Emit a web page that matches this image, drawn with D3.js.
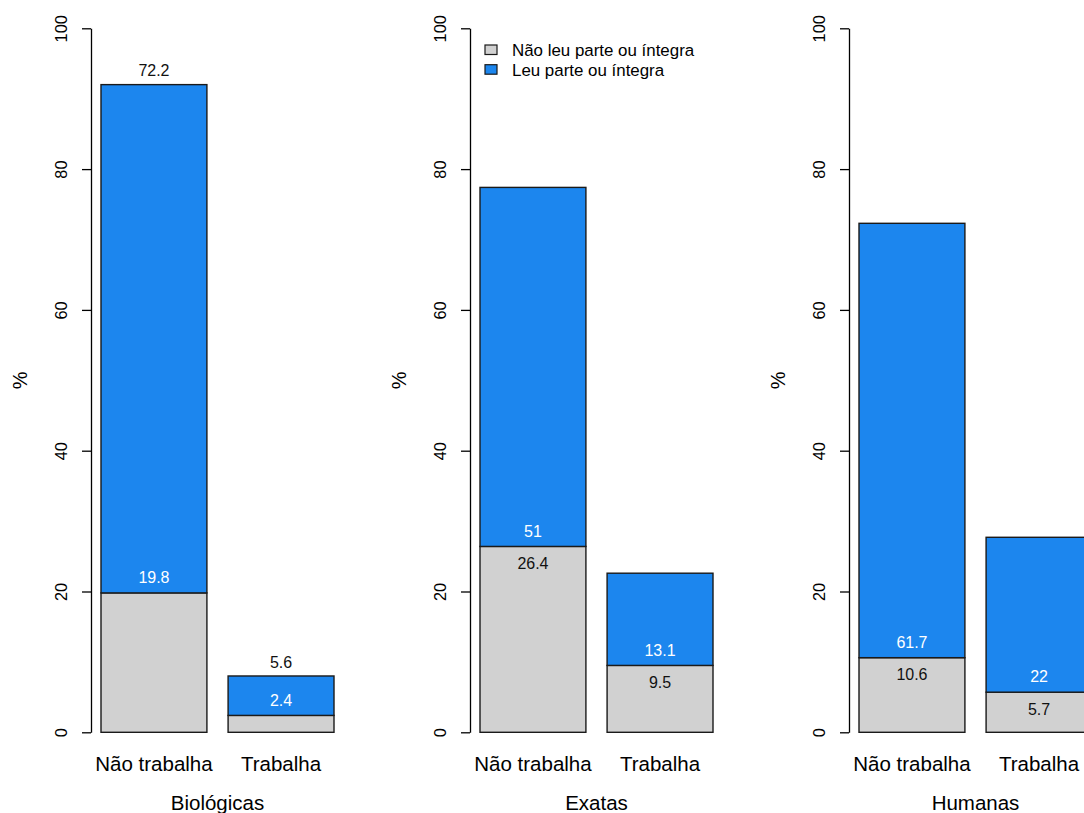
<!DOCTYPE html>
<html>
<head>
<meta charset="utf-8">
<script src="https://cdn.jsdelivr.net/npm/d3@7"></script>
<style>
  html, body { margin: 0; padding: 0; background: #fff; }
  svg { display: block; font-family: "Liberation Sans", Arial, sans-serif; }
</style>
</head>
<body>
<svg id="chart" width="1084" height="813"></svg>
<script>
// Leitura de obras por área e situação de trabalho (%)
const areas = ["Biológicas", "Exatas", "Humanas"];
const categorias = ["Não trabalha", "Trabalha"];
const naoLeu = [[19.8, 2.4], [26.4, 9.5], [10.6, 5.7]];   // Não leu parte ou íntegra
const leu = [[72.2, 5.6], [51, 13.1], [61.7, 22]];          // Leu parte ou íntegra
const ticksY = [0, 20, 40, 60, 80, 100];
const legenda = ["Não leu parte ou íntegra", "Leu parte ou íntegra"];
// Biológicas traz o valor de "leu" acima da barra; as demais trazem "não leu" dentro do segmento cinza
const rotuloNoTopo = [true, false, false];

const cores = ["#D1D1D1", "#1C86EE"];
const larguraPainel = 379;
const eixoX = 91;
const topo = 28.3, base = 732.3;

const svg = d3.select("#chart");
const y = d3.scaleLinear().domain([0, 100]).range([base, topo]);

areas.forEach((area, i) => {
  const g = svg.append("g").attr("transform", `translate(${i * larguraPainel},0)`);

  const x = d3.scaleBand()
    .domain(categorias)
    .range([eixoX + 10, eixoX + 10 + 233])
    .paddingInner(0.2 / 1.2)
    .paddingOuter(0);

  // eixo y
  const eixo = g.append("g")
    .attr("transform", `translate(${eixoX},0)`)
    .call(d3.axisLeft(y).tickValues(ticksY).tickSize(9).tickSizeOuter(0).tickFormat(d3.format("d")));
  eixo.select(".domain").attr("stroke", "#000").attr("stroke-width", 1.3);
  eixo.selectAll(".tick line").attr("stroke", "#000").attr("stroke-width", 1.3);
  eixo.selectAll(".tick text")
    .attr("transform", "rotate(-90)")
    .attr("x", 0).attr("y", -24.5).attr("dy", 0)
    .attr("text-anchor", "middle")
    .attr("fill", "#000")
    .style("font-size", "16.3px")
    .style("font-family", "'Liberation Sans', Arial, sans-serif");

  // título do eixo y
  g.append("text")
    .attr("transform", `translate(27,${y(50)}) rotate(-90)`)
    .attr("text-anchor", "middle")
    .style("font-size", "20px")
    .text("%");

  // barras empilhadas
  categorias.forEach((cat, j) => {
    const cinza = naoLeu[i][j];
    const azul = leu[i][j];
    g.append("rect")
      .attr("x", x(cat)).attr("width", x.bandwidth())
      .attr("y", y(cinza)).attr("height", y(0) - y(cinza))
      .attr("fill", cores[0]).attr("stroke", "#1a1a1a").attr("stroke-width", 1.4);
    g.append("rect")
      .attr("x", x(cat)).attr("width", x.bandwidth())
      .attr("y", y(cinza + azul)).attr("height", y(cinza) - y(cinza + azul))
      .attr("fill", cores[1]).attr("stroke", "#1a1a1a").attr("stroke-width", 1.4);

    const cx = x(cat) + x.bandwidth() / 2;
    const rotulo = (valor, yVal, cor) => g.append("text")
      .attr("x", cx).attr("y", y(yVal)).attr("dy", "0.36em")
      .attr("text-anchor", "middle")
      .attr("fill", cor)
      .style("font-size", "16px")
      .text(valor);

    if (rotuloNoTopo[i]) {
      rotulo(cinza, cinza + 2.2, "#fff");
      rotulo(azul, cinza + azul + 2.0, "#111");
    } else {
      rotulo(azul, cinza + 2.2, "#fff");
      rotulo(cinza, cinza - 2.4, "#111");
    }

    // nome da categoria
    g.append("text")
      .attr("x", cx).attr("y", 770.5)
      .attr("text-anchor", "middle")
      .style("font-size", "20.5px")
      .text(cat);
  });

  // título do painel
  const [r0, r1] = x.range();
  g.append("text")
    .attr("x", (r0 + r1) / 2).attr("y", 810)
    .attr("text-anchor", "middle")
    .style("font-size", "20.5px")
    .text(area);

  // legenda no painel central
  if (i === 1) {
    const leg = g.append("g");
    legenda.forEach((txt, k) => {
      leg.append("rect")
        .attr("x", 485 - larguraPainel).attr("y", 45 + k * 19.7)
        .attr("width", 12).attr("height", 9.5)
        .attr("fill", cores[k]).attr("stroke", "#1a1a1a").attr("stroke-width", 1.2);
      leg.append("text")
        .attr("x", 512 - larguraPainel).attr("y", 50 + k * 19.7).attr("dy", "0.36em")
        .style("font-size", "16.9px")
        .text(txt);
    });
  }
});
</script>
</body>
</html>
